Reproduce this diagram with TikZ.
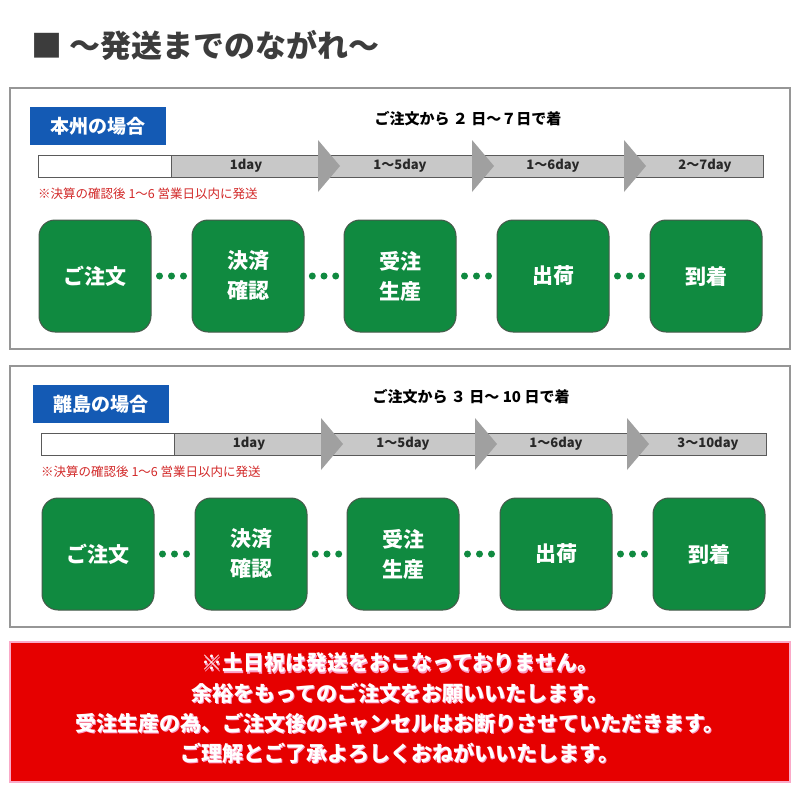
\documentclass[tikz,border=0pt]{standalone}
\usepackage{fontspec}
\setmainfont{Noto Sans CJK JP}
\definecolor{gfill}{RGB}{16,138,64}
\definecolor{gdraw}{RGB}{70,90,75}
\definecolor{bluebadge}{RGB}{20,90,180}
\definecolor{panelgray}{RGB}{150,150,150}
\definecolor{bargray}{RGB}{200,200,200}
\definecolor{barline}{RGB}{90,90,90}
\definecolor{chevgray}{RGB}{160,160,160}
\definecolor{labtext}{RGB}{40,40,40}
\definecolor{notered}{RGB}{210,40,40}
\definecolor{titlegray}{RGB}{60,60,60}
\definecolor{redbg}{RGB}{230,0,0}
\definecolor{pinkline}{RGB}{250,170,200}
\definecolor{pinkshadow}{RGB}{250,160,200}
\begin{document}
\begin{tikzpicture}[x=1pt,y=-1pt,
  greenbox/.style={fill=gfill, draw=gdraw, line width=1pt, rounded corners=16pt, minimum width=112pt, minimum height=112pt, text=white, font=\bfseries\fontsize{21}{30}\selectfont, align=center},
  dotc/.style={circle, fill=gfill, minimum size=7pt, inner sep=0pt},
  badge/.style={fill=bluebadge, text=white, font=\bfseries\fontsize{19}{22}\selectfont, inner sep=0pt},
  barlab/.style={font=\bfseries\fontsize{13}{15}\selectfont, text=labtext},
  chev/.style={fill=chevgray},
  redtxt/.style={text=white, font=\bfseries\fontsize{21}{30}\selectfont}]
\useasboundingbox (0,0) rectangle (800,800);
\fill[white] (0,0) rectangle (800,800);
\node[anchor=west, font=\bfseries\fontsize{31}{34}\selectfont, text=titlegray] (title) at (28,45) {■ 〜発送までのながれ〜};
\foreach \dx/\dy/\ttl/\hdr/\last in {0/0/本州の場合/ご注文から ２ 日〜７日で着/2〜7day, 3/278/離島の場合/ご注文から ３ 日〜 10 日で着/3〜10day}{
\begin{scope}[shift={(\dx,\dy)}]
  \draw[panelgray, line width=2.5pt] (10-\dx,88) rectangle (790-\dx,349);
  \node[badge, minimum width=136pt, minimum height=38pt] (b) at (98,126) {\ttl};
  \node[font=\bfseries\fontsize{15}{18}\selectfont] (h) at (468,119) {\hdr};
  \draw[fill=white, draw=barline] (38,155) rectangle (171,177);
  \draw[fill=bargray, draw=barline] (171,155) rectangle (763,177);
  \foreach \cx in {318,472,624}{\fill[chev] (\cx,140) -- (\cx+22,166) -- (\cx,192) -- cycle;}
  \node[barlab] (l1) at (246,166) {1day};
  \node[barlab] (l2) at (400,166) {1〜5day};
  \node[barlab] (l3) at (553,166) {1〜6day};
  \node[barlab] (l4) at (705,166) {\last};
  \node[anchor=west, text=notered, font=\fontsize{12.5}{14}\selectfont, inner sep=0pt] (n) at (38,194) {※決算の確認後 1〜6 営業日以内に発送};
  \node[greenbox] (g1) at (95,276) {ご注文};
  \node[greenbox] (g2) at (248,276) {決済\\確認};
  \node[greenbox] (g3) at (400,276) {受注\\生産};
  \node[greenbox] (g4) at (553,276) {出荷};
  \node[greenbox] (g5) at (706,276) {到着};
  \foreach \a/\bb in {g1/g2,g2/g3,g3/g4,g4/g5}{
    \path (\a.east) -- (\bb.west) node[pos=0.2,dotc]{} node[pos=0.5,dotc]{} node[pos=0.8,dotc]{};}
\end{scope}}
\draw[fill=redbg, draw=pinkline, line width=2pt] (10,642) rectangle (790,782);
\foreach \y/\t in {663/※土日祝は発送をおこなっておりません。,693/余裕をもってのご注文をお願いいたします。,723/受注生産の為、ご注文後のキャンセルはお断りさせていただきます。,753/ご理解とご了承よろしくおねがいいたします。}{
  \node[redtxt, text=pinkshadow] at (401,\y+1.5) {\t};
  \node[redtxt] at (400,\y) {\t};}
\end{tikzpicture}
\end{document}
